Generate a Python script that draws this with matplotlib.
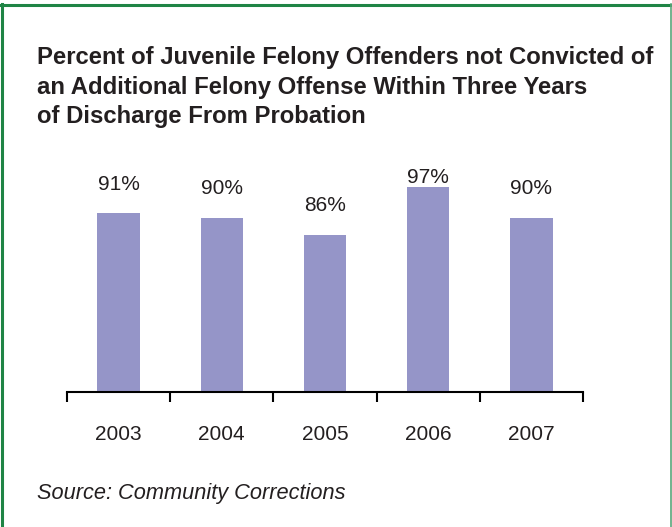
import numpy as np
import matplotlib.pyplot as plt

# Data
years = ['2003', '2004', '2005', '2006', '2007']
pct_not_convicted = [91, 90, 86, 97, 90]
value_labels = ['91%', '90%', '86%', '97%', '90%']

title_text = ('Percent of Juvenile Felony Offenders not Convicted of\n'
              'an Additional Felony Offense Within Three Years\n'
              'of Discharge From Probation')
source_text = 'Source: Community Corrections'

plt.rcParams['font.family'] = ['Liberation Sans', 'DejaVu Sans']
text_color = '#231f20'
bar_color = '#9595c8'
frame_color = '#1f8445'

W, H = 672, 527
fig = plt.figure(figsize=(W / 100, H / 100), dpi=100)
fig.patch.set_facecolor('white')

# green frame (top, left, right)
fig.add_artist(plt.Line2D([1.5 / W, 1.5 / W], [0, 1 - 4 / H], transform=fig.transFigure,
                          color=frame_color, lw=2.2))
fig.add_artist(plt.Line2D([0, 1 - 1 / W], [1 - 5 / H, 1 - 5 / H], transform=fig.transFigure,
                          color=frame_color, lw=2.2))
fig.add_artist(plt.Line2D([1 - 1.5 / W, 1 - 1.5 / W], [0, 1 - 4 / H], transform=fig.transFigure,
                          color='#5aa57a', lw=1.2))

# title and source
fig.text(37 / W, 1 - 46 / H, title_text, ha='left', va='top', fontsize=17.2,
         fontweight='bold', color=text_color, linespacing=1.37)
fig.text(37 / W, 1 - 493 / H, source_text, ha='left', va='center', fontsize=15.7,
         style='italic', color=text_color)

# plot area
x0, x1 = 67, 583
y_base, y_top = 392, 174
ax = fig.add_axes([x0 / W, 1 - y_base / H, (x1 - x0) / W, (y_base - y_top) / H])
x = np.arange(len(years))
ax.bar(x, pct_not_convicted, width=0.41, color=bar_color, zorder=2)
ax.set_xlim(-0.5, len(years) - 0.5)
ax.set_ylim(50, 100)

for xi, v, lab in zip(x, pct_not_convicted, value_labels):
    ax.text(xi, min(v + 6.7, 99.3), lab, ha='center', va='center',
            fontsize=15, color=text_color, clip_on=False)

for s in ['top', 'right', 'left']:
    ax.spines[s].set_visible(False)
ax.spines['bottom'].set_color('black')
ax.spines['bottom'].set_linewidth(1.5)
ax.set_yticks([])
ax.set_xticks(x)
ax.set_xticklabels(years, fontsize=15, color=text_color)
ax.tick_params(axis='x', which='major', length=0, pad=24)
ax.set_xticks(np.arange(-0.5, len(years)), minor=True)
ax.tick_params(axis='x', which='minor', length=7, width=1.5, color='black', direction='out')

fig.savefig('out.png', dpi=100, facecolor='white')
